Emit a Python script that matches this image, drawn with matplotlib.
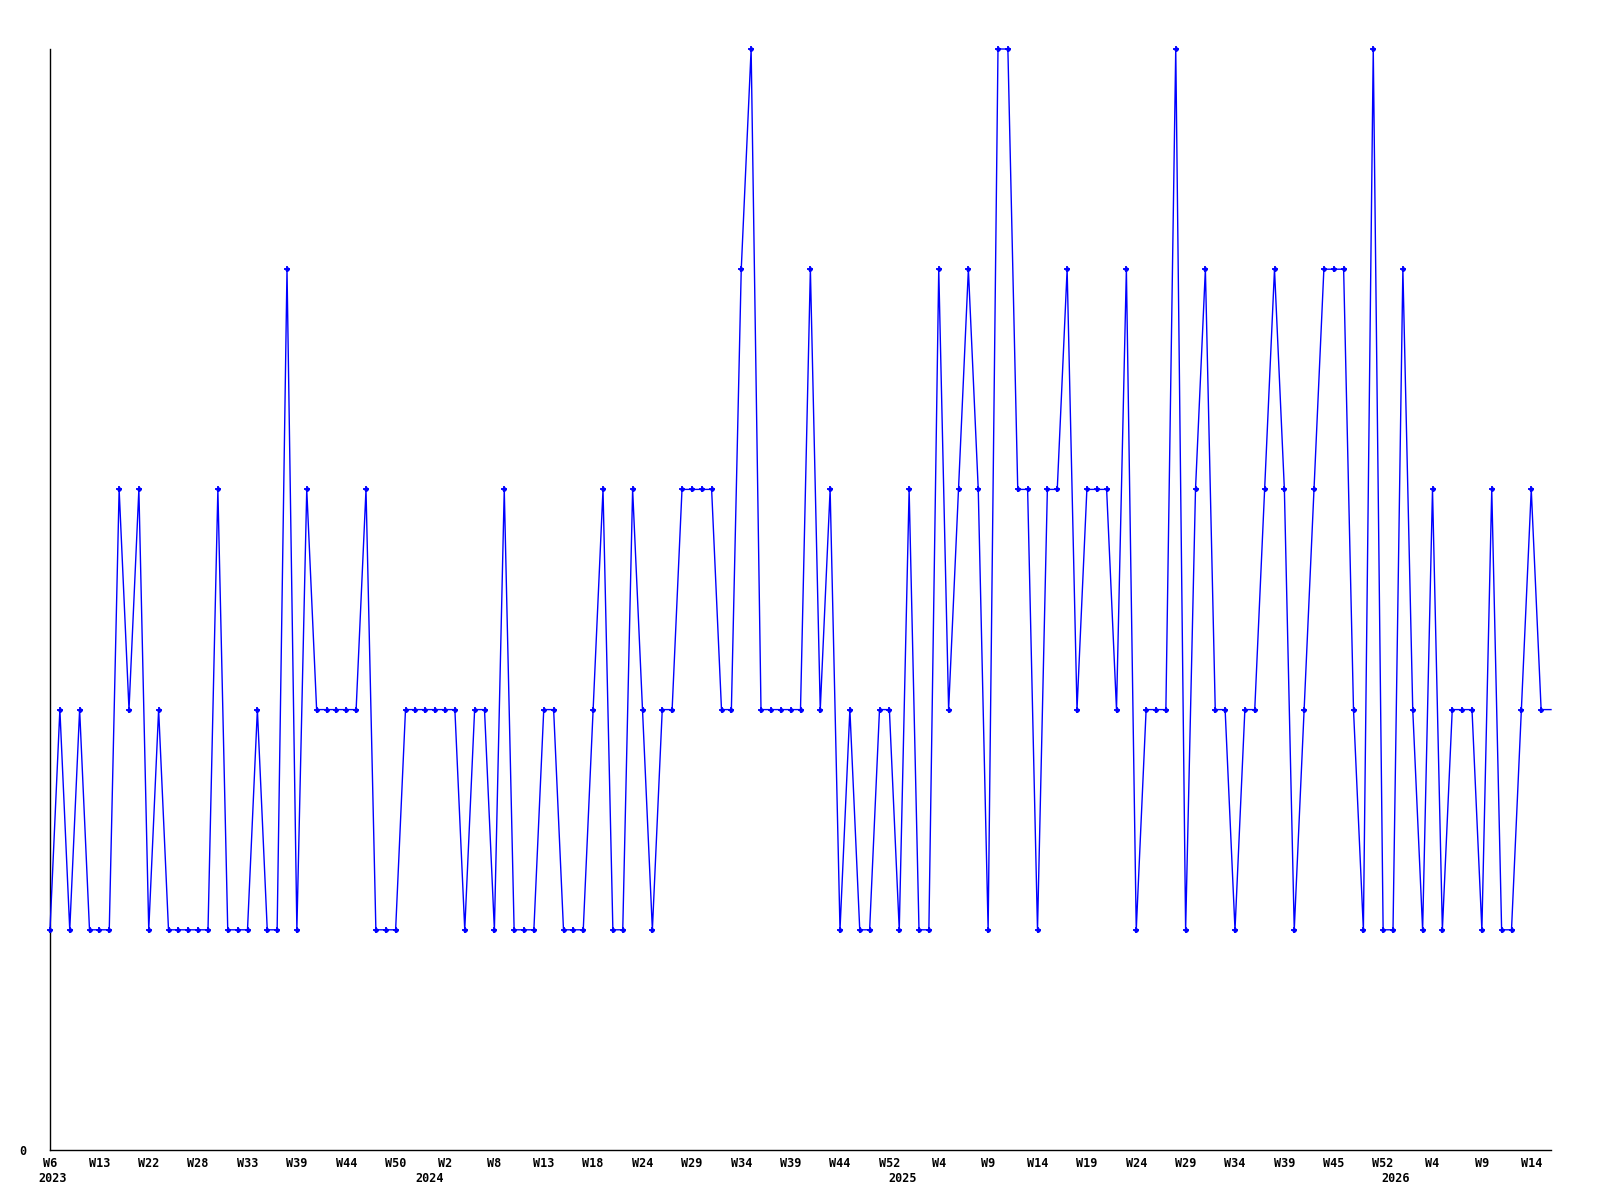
import matplotlib
matplotlib.use("Agg")
import matplotlib.pyplot as plt

values = [1, 2, 1, 2, 1, 1, 1, 3, 2, 3,
          1, 2, 1, 1, 1, 1, 1, 3, 1, 1,
          1, 2, 1, 1, 4, 1, 3, 2, 2, 2,
          2, 2, 3, 1, 1, 1, 2, 2, 2, 2,
          2, 2, 1, 2, 2, 1, 3, 1, 1, 1,
          2, 2, 1, 1, 1, 2, 3, 1, 1, 3,
          2, 1, 2, 2, 3, 3, 3, 3, 2, 2,
          4, 5, 2, 2, 2, 2, 2, 4, 2, 3,
          1, 2, 1, 1, 2, 2, 1, 3, 1, 1,
          4, 2, 3, 4, 3, 1, 5, 5, 3, 3,
          1, 3, 3, 4, 2, 3, 3, 3, 2, 4,
          1, 2, 2, 2, 5, 1, 3, 4, 2, 2,
          1, 2, 2, 3, 4, 3, 1, 2, 3, 4,
          4, 4, 2, 1, 5, 1, 1, 4, 2, 1,
          3, 1, 2, 2, 2, 1, 3, 1, 1, 2,
          3, 2, 2]

tick_labels = ["W6", "W13", "W22", "W28", "W33", "W39", "W44", "W50",
               "W2", "W8", "W13", "W18", "W24", "W29", "W34", "W39",
               "W44", "W52", "W4", "W9", "W14", "W19", "W24", "W29",
               "W34", "W39", "W45", "W52", "W4", "W9", "W14"]
year_labels = ["2023", "2024", "2025", "2026"]
year_pos = [0.3, 38.4, 86.3, 136.3]

font = dict(fontfamily="DejaVu Sans Mono", fontweight="bold", fontsize=8.5)

fig = plt.figure(figsize=(16, 12), dpi=100)
ax = fig.add_axes([50 / 1600, 1 - 1150 / 1200, 1501 / 1600, 1101 / 1200])

x = list(range(len(values)))
marks = list(range(len(values) - 1))
ax.plot(x, values, color="#0000ff", lw=1.0, clip_on=False, zorder=3)
ax.plot(x, values, linestyle="none", color="#0000ff", marker="+", ms=5,
        mew=1.3, markevery=marks, clip_on=False, zorder=4)
ax.plot(x, values, linestyle="none", color="#0000ff", marker="o", ms=2.2,
        markevery=marks, clip_on=False, zorder=4)

ax.set_xlim(0, len(values) - 1)
ax.set_ylim(0, 5)

for s in ("top", "right"):
    ax.spines[s].set_visible(False)
for s in ("left", "bottom"):
    ax.spines[s].set_color("black")
    ax.spines[s].set_linewidth(1.0)

ax.set_xticks(list(range(0, len(values), 5))[:len(tick_labels)])
ax.set_xticklabels(tick_labels, **font)
ax.set_yticks([0])
ax.set_yticklabels(["0"], **font)
ax.tick_params(axis="x", length=0, pad=5)
ax.tick_params(axis="y", length=0, pad=17)

for lab, pos in zip(year_labels, year_pos):
    ax.annotate(lab, xy=(pos, 0), xycoords=("data", "axes fraction"),
                xytext=(0, -15.5), textcoords="offset points",
                ha="center", va="top", annotation_clip=False, **font)

fig.savefig("out.png", dpi=100, facecolor="white")
